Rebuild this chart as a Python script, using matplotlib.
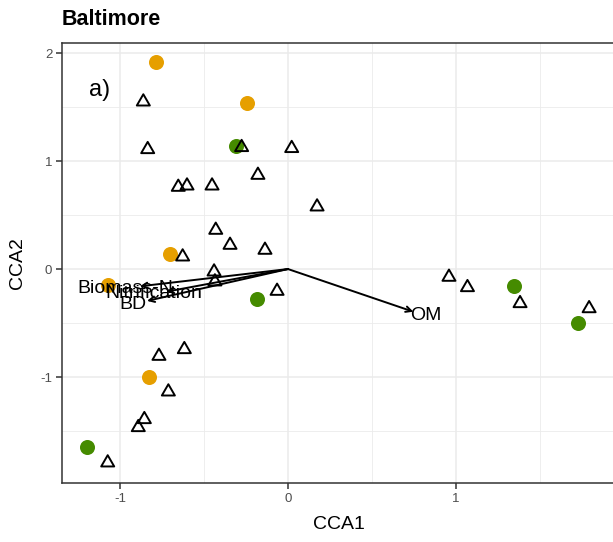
import numpy as np
import matplotlib
matplotlib.use("Agg")
import matplotlib.pyplot as plt
from matplotlib.path import Path
from matplotlib.ticker import MultipleLocator

plt.rcParams["font.family"] = ["Liberation Sans", "DejaVu Sans"]
plt.rcParams["axes.unicode_minus"] = False

# site scores, coloured by group
orange_x = [-0.786, -0.246, -0.702, -1.071, -0.826]
orange_y = [1.919, 1.534, 0.139, -0.148, -0.997]
green_x = [-0.311, -0.185, 1.345, 1.726, -1.195]
green_y = [1.139, -0.278, -0.157, -0.500, -1.645]

# species scores (open triangles)
tri_x = [-0.861, -0.835, -0.276, 0.022, -0.179, -0.653, -0.601, -0.452,
         0.173, -0.430, -0.345, -0.627, -0.137, -0.440, -0.435, -0.065,
         0.958, 1.068, 1.381, 1.792, -0.617, -0.768, -0.712, -0.855,
         -0.891, -1.073]
tri_y = [1.549, 1.108, 1.127, 1.118, 0.870, 0.759, 0.771, 0.771,
         0.577, 0.361, 0.222, 0.114, 0.176, -0.025, -0.117, -0.204,
         -0.074, -0.170, -0.318, -0.365, -0.744, -0.806, -1.136, -1.392,
         -1.466, -1.793]

# environmental vectors
env_names = ["Biomass-N", "Nitrification", "BD", "OM"]
env_x = [-0.882, -0.725, -0.839, 0.746]
env_y = [-0.160, -0.210, -0.295, -0.395]
label_scale = 1.1

W, H = 613, 542
fig = plt.figure(figsize=(W / 100, H / 100), dpi=100)
ax = fig.add_axes([62 / W, (H - 483) / H, (616 - 62) / W, 440 / H])

ax.set_xlim(-1.345, 1.952)
ax.set_ylim(-1.981, 2.093)
ax.xaxis.set_major_locator(MultipleLocator(1))
ax.yaxis.set_major_locator(MultipleLocator(1))
ax.xaxis.set_minor_locator(MultipleLocator(0.5))
ax.yaxis.set_minor_locator(MultipleLocator(0.5))
ax.grid(which="major", color="#EBEBEB", lw=1.1, zorder=0)
ax.grid(which="minor", color="#EBEBEB", lw=0.6, zorder=0)
ax.set_axisbelow(True)

for side, sp in ax.spines.items():
    sp.set_color("#333333")
    sp.set_linewidth(1.1)

ax.tick_params(which="major", length=4, width=1.1, color="#333333",
               labelsize=9.5, labelcolor="#4D4D4D", pad=3)
ax.tick_params(which="minor", length=0)

ax.scatter(orange_x, orange_y, s=117, c="#E69F00", linewidths=0, zorder=3)
ax.scatter(green_x, green_y, s=117, c="#458B00", linewidths=0, zorder=3)

# open equilateral triangle (closed outline)
tri = Path([(-0.5, -0.289), (0.5, -0.289), (0.0, 0.577), (-0.5, -0.289)],
           [Path.MOVETO, Path.LINETO, Path.LINETO, Path.CLOSEPOLY])
ax.scatter(tri_x, tri_y, s=117, marker=tri, facecolors="none",
           edgecolors="black", linewidths=1.4, zorder=4)

for name, ex, ey in zip(env_names, env_x, env_y):
    ax.annotate("", xy=(ex, ey), xytext=(0, 0),
                arrowprops=dict(arrowstyle="->", lw=1.4, color="black",
                                shrinkA=0, shrinkB=0, mutation_scale=10),
                zorder=5)
    ax.text(ex * label_scale, ey * label_scale, name, fontsize=14,
            ha="center", va="center", color="black", zorder=6)

ax.text(-1.119, 1.657, "a)", fontsize=17, ha="center", va="center")

ax.set_xlabel("CCA1", fontsize=14, labelpad=8)
ax.set_ylabel("CCA2", fontsize=14, labelpad=10)

fig.text(62 / W, 1 - 25 / H, "Baltimore", fontsize=15.5, fontweight="bold",
         ha="left", va="baseline")

fig.savefig("out.png", dpi=100)
